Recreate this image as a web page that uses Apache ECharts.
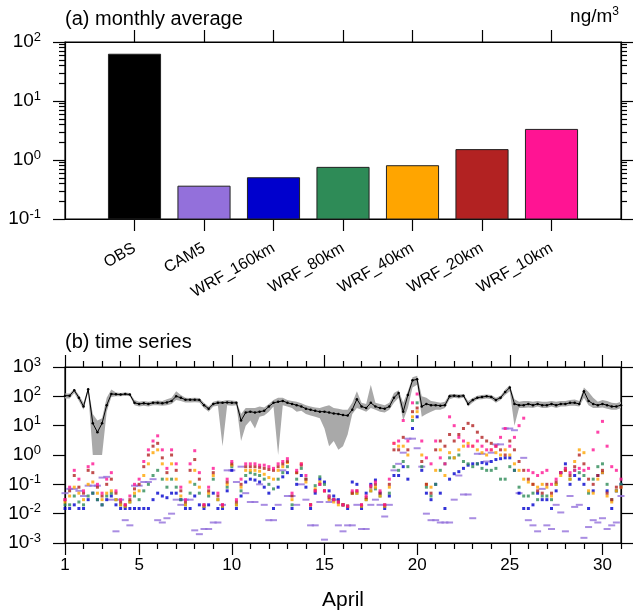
<!DOCTYPE html>
<html>
<head>
<meta charset="utf-8">
<script src="https://cdn.jsdelivr.net/npm/echarts@6/dist/echarts.min.js"></script>
<style>
  html, body { margin: 0; padding: 0; background: #fff; }
  #main { width: 633px; height: 613px; }
</style>
</head>
<body>
<div id="main"></div>
<script>
// ---- panel (a): monthly averages
var categories = ['OBS', 'CAM5', 'WRF_160km', 'WRF_80km', 'WRF_40km', 'WRF_20km', 'WRF_10km'];
var monthlyAvg = [62, 0.36, 0.50, 0.75, 0.80, 1.5, 3.3];
var barColors = ['#000000', '#9370db', '#0000cd', '#2e8b57', '#ffa500', '#b22222', '#ff1493'];

// ---- panel (b): 6-hourly samples, 1 April 00h .. 31 April 00h
var dayStart = 1, stepDays = 0.25;
var dayTicks = [1, 5, 10, 15, 20, 25, 30];

var obs = [
  105,105,160,90, 45,175,12,6, 12,50,120,118, 115,120,115,60, 55,58,55,60,
  60,58,62,70, 100,90,76,76, 76,75,50,38, 55,60,60,62, 60,60,15,28,
  30,28,30,32, 45,60,65,70, 60,55,50,45, 38,35,32,30, 30,28,26,25,
  23,22,35,80, 45,40,60,45, 40,38,45,90, 130,30,110,350, 380,45,55,50,
  50,48,50,100, 105,100,105,55, 75,90,95,100, 95,75,90,140, 200,55,50,50,
  55,50,55,50, 50,55,50,55, 55,60,60,55, 150,70,55,50, 55,50,45,45, 50
];
var obsLow = [
  85,85,130,70, 35,140,1,1, 1,30,95,100, 100,105,100,50, 45,48,45,50,
  50,48,50,55, 75,70,62,62, 63,62,40,30, 45,48,2,50, 48,50,3,10,
  15,8,20,22, 30,45,1,50, 45,40,30,32, 25,22,20,18, 8,2,3,1.5,
  2,5,25,40, 35,30,40,35, 30,28,35,60, 90,15,40,200, 250,20,25,30,
  35,35,40,80, 90,85,90,45, 62,78,80,85, 80,60,75,110, 150,10,40,40,
  42,40,45,40, 40,45,40,45, 45,48,48,45, 90,50,40,40, 42,38,35,35, 40
];
var obsHigh = [
  125,125,180,110, 60,200,25,15, 18,90,170,135, 130,135,130,75, 65,70,65,70,
  72,70,80,90, 150,110,90,88, 90,88,60,45, 65,72,70,75, 72,70,25,40,
  40,40,45,42, 55,75,90,90, 75,70,65,58, 50,45,42,40, 45,50,40,38,
  35,35,60,150, 60,55,250,60, 55,50,60,130, 160,60,150,450, 500,100,90,70,
  65,60,65,120, 120,115,120,70, 88,105,110,115, 110,90,105,170, 240,80,65,70,
  70,65,70,65, 65,70,65,70, 70,75,78,70, 200,140,90,65, 75,70,60,58, 65
];
var cam5 = [
  0.05,0.07,0.07,0.06, 0.04,0.09,0.09,0.09, 0.17,0.18,0.03,0.0025, 0.03,0.006,0.004,0.09, 0.09,0.12,0.12,0.15,
  0.006,0.005,0.007,0.01, 0.03,0.02,0.03,0.03, 0.0027,0.002,0.003,0.003, 0.005,0.005,0.02,0.3, 0.3,0.12,0.4,0.05,
  0.025,0.025,0.1,0.02, 0.006,0.006,0.02,0.3, 0.04,0.04,0.02,0.1, 0.03,0.004,0.004,0.025, 0.0013,0.025,0.03,0.004,
  0.0025,0.004,0.004,0.02, 0.003,0.003,0.02,0.03, 0.02,0.008,0.02,0.3, 0.5,1.2,3.6,3.6, 1.7,0.4,0.01,0.006,
  0.006,0.005,0.005,0.005, 0.03,0.2,0.045,0.045, 0.007,1.1,1.1,0.6, 1.2,2.3,2.3,8, 8,7,0.05,0.8,
  0.006,0.004,0.0025,0.07, 0.004,0.003,0.02,0.011, 0.0025,0.04,0.017,0.02, 0.0015,0.0035,0.006,0.005, 0.007,0.003,0.004,0.005, 0.04
];
var wrf160 = [
  0.015,0.015,0.02,0.015, 0.015,0.03,0.05,0.03, 0.02,0.03,0.04,0.02, 0.015,0.015,0.015,0.015, 0.015,0.015,0.015,0.03,
  0.05,0.04,0.035,0.05, 0.05,0.03,0.015,0.015, 0.04,0.02,0.015,0.02, 0.05,0.015,0.015,0.06, 0.3,0.015,0.04,0.12,
  0.15,0.14,0.12,0.08, 0.05,0.015,0.08,0.18, 0.25,0.015,0.1,0.2, 0.08,0.015,0.05,0.15, 0.12,0.06,0.04,0.03,
  0.02,0.015,0.12,0.1, 0.015,0.05,0.1,0.14, 0.05,0.015,0.04,0.2, 0.2,0.4,0.15,8, 20,0.3,0.05,0.03,
  0.1,0.05,0.015,0.15, 0.23,0.27,0.35,0.45, 0.5,0.5,0.55,0.5, 0.6,0.7,0.75,0.8, 0.8,0.3,0.05,0.015,
  0.015,0.02,0.05,0.03, 0.03,0.015,0.06,0.25, 0.5,0.1,0.2,0.15, 0.1,0.015,0.06,0.2, 0.25,0.06,0.015,0.06, 0.1
];
var wrf80 = [
  0.02,0.02,0.04,0.025, 0.02,0.04,0.05,0.03, 0.02,0.04,0.05,0.03, 0.02,0.018,0.025,0.04, 0.03,0.06,0.1,0.2,
  0.3,0.15,0.08,0.15, 0.08,0.03,0.02,0.05, 0.1,0.05,0.018,0.04, 0.15,0.03,0.018,0.08, 0.4,0.02,0.06,0.2,
  0.25,0.22,0.2,0.15, 0.1,0.07,0.15,0.25, 0.4,0.02,0.15,0.35, 0.15,0.02,0.09,0.18, 0.1,0.04,0.03,0.025,
  0.02,0.018,0.05,0.05, 0.018,0.03,0.06,0.07, 0.04,0.018,0.05,0.4, 0.3,0.6,0.4,15, 60,0.4,0.08,0.04,
  0.1,0.3,0.5,0.8, 0.8,1,0.6,0.5, 0.4,0.5,0.35,0.3, 0.3,0.35,0.15,0.15, 0.4,0.3,0.08,0.04,
  0.04,0.05,0.03,0.04, 0.04,0.03,0.1,0.25, 0.35,0.15,0.3,0.25, 0.2,0.05,0.15,0.4, 0.5,0.1,0.03,0.06, 0.1
];
var wrf40 = [
  0.025,0.04,0.08,0.05, 0.03,0.1,0.12,0.05, 0.03,0.05,0.06,0.03, 0.02,0.018,0.025,0.05, 0.06,0.2,0.5,1.2,
  1.5,0.5,0.15,0.5, 0.15,0.04,0.02,0.12, 0.3,0.08,0.018,0.05, 0.2,0.03,0.018,0.1, 0.45,0.02,0.08,0.3,
  0.3,0.3,0.28,0.22, 0.17,0.15,0.3,0.4, 0.55,0.03,0.25,0.5, 0.12,0.02,0.07,0.12, 0.06,0.03,0.025,0.02,
  0.02,0.018,0.05,0.05, 0.018,0.03,0.06,0.08, 0.04,0.018,0.08,2.5, 2,2,1,20, 30,1,0.1,0.08,
  0.3,1.5,0.2,1.2, 0.8,1.5,2,2.5, 2,1.5,1.2,1, 1.5,1.2,1,1.5, 1,0.5,0.3,0.15,
  0.12,0.1,0.08,0.1, 0.08,0.04,0.1,0.2, 0.3,0.15,0.6,1.5, 1.2,0.06,0.05,0.15, 0.25,0.04,0.025,0.06, 0.08
];
var wrf20 = [
  0.03,0.06,0.2,0.08, 0.05,0.3,0.25,0.08, 0.04,0.1,0.15,0.05, 0.025,0.02,0.03,0.07, 0.1,0.4,1,2,
  2.5,0.8,0.25,1.0, 0.3,0.06,0.025,0.3, 0.7,0.15,0.02,0.06, 0.25,0.04,0.02,0.12, 0.5,0.025,0.1,0.4,
  0.4,0.4,0.38,0.35, 0.32,0.3,0.4,0.5, 0.6,0.04,0.25,0.45, 0.15,0.02,0.06,0.1, 0.06,0.035,0.03,0.025,
  0.02,0.018,0.05,0.06, 0.02,0.035,0.08,0.1, 0.05,0.02,0.1,1.5, 1.5,4,1.5,30, 40,0.6,0.1,0.05,
  1.5,3,2,5, 3,5,8,12, 10,6,4,3, 2.5,2,1.5,1, 3,1.5,0.6,0.3,
  0.15,0.1,0.06,0.05, 0.1,0.05,0.12,0.25, 0.3,0.2,0.4,1, 0.5,0.15,0.1,0.2, 0.3,0.05,0.03,0.08, 0.08
];
var wrf10 = [
  0.03,0.08,0.3,0.15, 0.06,0.4,0.5,0.1, 0.05,0.15,0.25,0.06, 0.03,0.02,0.04,0.1, 0.15,0.6,1.5,3,
  4.5,1.5,0.35,1.5, 0.5,0.08,0.03,0.5, 1.4,0.25,0.02,0.08, 0.35,0.05,0.02,0.15, 0.6,0.03,0.15,0.5,
  0.5,0.5,0.45,0.45, 0.4,0.35,0.5,0.6, 0.75,0.05,0.3,0.5, 0.2,0.02,0.06,0.1, 0.06,0.04,0.03,0.025,
  0.02,0.018,0.06,0.06, 0.02,0.04,0.09,0.12, 0.06,0.02,0.15,2.5, 3,15,3,60, 120,3,0.8,0.5,
  3,0.8,0.5,20, 10,4,3,2, 2,3,2,1.5, 1.5,2,4,8, 2,4,10,18,
  0.3,0.25,0.2,0.25, 0.3,0.1,0.15,0.25, 0.35,0.25,0.3,0.35, 0.3,0.35,1.5,6, 14,2,0.4,0.3, 0.15
];

var FONT = 'Liberation Sans';
var myChart = echarts.init(document.getElementById('main'));

function withDays(arr) {
  return arr.map(function (v, i) { return [dayStart + i * stepDays, v]; });
}
function supLabel(v) {
  return '{b|10}{s|' + Math.round(Math.log10(v)) + '}';
}
var supRich = {
  b: { fontSize: 19, fontFamily: FONT, color: '#000' },
  s: { fontSize: 13, fontFamily: FONT, color: '#000', padding: [0, 0, 10, 0] }
};
// minor tick spots (in log10 units) for the tick-only axes
function minorLogs(lo, hi) {
  var out = [];
  for (var n = lo; n < hi; n++) {
    for (var k = 2; k <= 9; k++) out.push(n + Math.log10(k));
  }
  return out;
}
function range(a, b) { var r = []; for (var i = a; i <= b; i++) r.push(i); return r; }
var minorDays = range(2, 31).filter(function (d) { return dayTicks.indexOf(d) < 0; });

var lineCol = { color: '#000', width: 1.2 };
function tickAxis(grid, pos, min, max, values, len, showLine) {
  return {
    gridIndex: grid, type: 'value', position: pos, min: min, max: max,
    axisLine: { show: !!showLine, onZero: false, lineStyle: lineCol },
    axisTick: { show: true, customValues: values, length: len, inside: false, lineStyle: lineCol },
    axisLabel: { show: false }, splitLine: { show: false }
  };
}

var modelSeries = [
  ['WRF_160km', wrf160, '#0000cd'],
  ['WRF_80km', wrf80, '#2e8b57'],
  ['WRF_40km', wrf40, '#ffa500'],
  ['WRF_20km', wrf20, '#b22222'],
  ['WRF_10km', wrf10, '#ff1493']
].map(function (m) {
  return {
    name: m[0], type: 'scatter', xAxisIndex: 2, yAxisIndex: 4,
    data: withDays(m[1]), symbol: 'rect', symbolSize: 3,
    itemStyle: { color: m[2] }, silent: true
  };
});

var option = {
  animation: false,
  textStyle: { fontFamily: FONT },
  grid: [
    { left: 65, top: 42, width: 556, height: 177, show: true, borderColor: '#000', borderWidth: 1.2 },
    { left: 65, top: 367, width: 556, height: 176, show: true, borderColor: '#000', borderWidth: 1.2 }
  ],
  xAxis: [
    {
      gridIndex: 0, type: 'value', position: 'bottom', min: 0, max: 8,
      axisLine: { onZero: false, lineStyle: lineCol },
      axisTick: { customValues: [1, 2, 3, 4, 5, 6, 7], length: 12, lineStyle: lineCol },
      axisLabel: {
        customValues: [1, 2, 3, 4, 5, 6, 7], rotate: 30, fontSize: 16, color: '#000', margin: 28,
        formatter: function (v) { return categories[Math.round(v) - 1] || ''; }
      },
      splitLine: { show: false }
    },
    tickAxis(0, 'top', 0, 8, [1, 2, 3, 4, 5, 6, 7], 12, true),
    {
      gridIndex: 1, type: 'value', position: 'bottom', min: 1, max: 31,
      axisLine: { onZero: false, lineStyle: lineCol },
      axisTick: { customValues: dayTicks, length: 12, lineStyle: lineCol },
      axisLabel: { customValues: dayTicks, fontSize: 17, color: '#000', margin: 14 },
      splitLine: { show: false },
      name: 'April', nameLocation: 'middle', nameGap: 47,
      nameTextStyle: { fontSize: 21, color: '#000', fontFamily: FONT }
    },
    tickAxis(1, 'bottom', 1, 31, minorDays, 6, false),
    tickAxis(1, 'top', 1, 31, dayTicks, 12, true),
    tickAxis(1, 'top', 1, 31, minorDays, 6, false)
  ],
  yAxis: [
    {
      gridIndex: 0, type: 'log', logBase: 10, min: 0.1, max: 100, position: 'left',
      axisLine: { onZero: false, lineStyle: lineCol },
      axisTick: { length: 12, lineStyle: lineCol },
      axisLabel: { formatter: supLabel, rich: supRich, margin: 24 },
      splitLine: { show: false }, minorTick: { show: false }
    },
    tickAxis(0, 'left', -1, 2, minorLogs(-1, 2), 6, false),
    tickAxis(0, 'right', -1, 2, [-1, 0, 1, 2], 12, true),
    tickAxis(0, 'right', -1, 2, minorLogs(-1, 2), 6, false),
    {
      gridIndex: 1, type: 'log', logBase: 10, min: 0.001, max: 1000, position: 'left',
      axisLine: { onZero: false, lineStyle: lineCol },
      axisTick: { length: 12, lineStyle: lineCol },
      axisLabel: { formatter: supLabel, rich: supRich, margin: 24 },
      splitLine: { show: false }, minorTick: { show: false }
    },
    tickAxis(1, 'right', -3, 3, [-3, -2, -1, 0, 1, 2, 3], 12, true)
  ],
  graphic: [
    { type: 'text', left: 65, top: 9, style: { text: '(a) monthly average', font: '20px "Liberation Sans"', fill: '#000' } },
    {
      type: 'text', right: 14, top: 6,
      style: {
        text: 'ng/m{s|3}', fill: '#000', font: '19px "Liberation Sans"',
        rich: { s: { fontSize: 12, fontFamily: FONT, padding: [0, 0, 9, 0] } }
      }
    },
    { type: 'text', left: 65, top: 332, style: { text: '(b) time series', font: '20px "Liberation Sans"', fill: '#000' } }
  ],
  series: [
    {
      name: 'monthly', type: 'custom', xAxisIndex: 0, yAxisIndex: 0,
      data: monthlyAvg.map(function (v, i) { return [i + 1, v]; }),
      renderItem: function (params, api) {
        var x = api.value(0), v = api.value(1);
        var tl = api.coord([x - 0.375, v]);
        var br = api.coord([x + 0.375, 0.1]);
        return {
          type: 'rect',
          shape: { x: tl[0], y: tl[1], width: br[0] - tl[0], height: br[1] - tl[1] },
          style: { fill: barColors[params.dataIndex], stroke: '#222', lineWidth: 1 }
        };
      }
    },
    {
      name: 'OBS range', type: 'custom', xAxisIndex: 2, yAxisIndex: 4, clip: true,
      data: [[1, 1]],
      renderItem: function (params, api) {
        var pts = [], i;
        for (i = 0; i < obsHigh.length; i++) pts.push(api.coord([dayStart + i * stepDays, obsHigh[i]]));
        for (i = obsLow.length - 1; i >= 0; i--) pts.push(api.coord([dayStart + i * stepDays, obsLow[i]]));
        return { type: 'polygon', shape: { points: pts }, style: { fill: '#a9a9a9' } };
      }
    },
    {
      name: 'OBS', type: 'line', xAxisIndex: 2, yAxisIndex: 4, data: withDays(obs),
      symbol: 'circle', symbolSize: 2.5, showSymbol: true,
      lineStyle: { color: '#000', width: 1 }, itemStyle: { color: '#000' }, silent: true
    },
    {
      name: 'CAM5', type: 'scatter', xAxisIndex: 2, yAxisIndex: 4, data: withDays(cam5),
      symbol: 'rect', symbolSize: [7, 2], itemStyle: { color: '#9370db' }, silent: true
    }
  ].concat(modelSeries)
};
myChart.setOption(option);
</script>
</body>
</html>
